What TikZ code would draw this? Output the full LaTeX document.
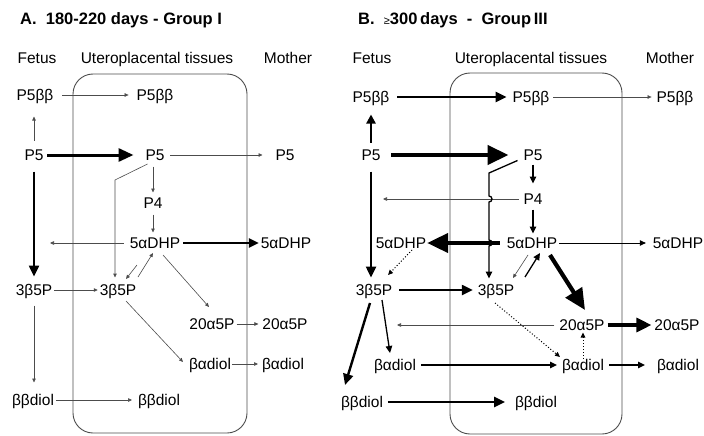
\documentclass[tikz,border=0pt]{standalone}
\usepackage{fontspec}
\setmainfont{Liberation Sans}
\usetikzlibrary{arrows.meta,calc}
\tikzset{
  lbl/.style={font=\fontsize{15.5}{18}\selectfont, inner sep=0pt, outer sep=0pt, text height=11pt, text depth=0pt},
  ttl/.style={font=\fontsize{16.5}{20}\selectfont\bfseries, anchor=west, inner sep=0pt},
  tissue/.style={draw=black!70, line width=0.9pt, rounded corners=20pt},
  weak/.style={draw=black!70, line width=0.6pt, -{Triangle[length=4pt,width=3.5pt]}},
  mid/.style={line width=1.3pt, -{Triangle[length=7pt,width=6.5pt]}},
  strong/.style={line width=2.4pt, -{Triangle[length=11pt,width=10pt]}},
  heavy/.style={line width=3.2pt, -{Triangle[length=15pt,width=14pt]}},
  huge/.style={line width=4.2pt, -{Triangle[length=21pt,width=19pt]}},
  dots/.style={dotted, line width=1pt, -{Triangle[length=5pt,width=4.5pt]}},
}
\begin{document}
\begin{tikzpicture}[x=1pt,y=-1pt]
\useasboundingbox (0,0) rectangle (704,436);
\node[ttl] (tA) at (20,20) {A.\ \ 180-220 days - Group I};
\node[lbl] (hFA) at (37,58) {Fetus};
\node[lbl] (hUA) at (157,58) {Uteroplacental tissues};
\node[lbl] (hMA) at (288,58) {Mother};
\draw[tissue] (73,74) rectangle (247,433);
\node[lbl] (aP5bbF) at (35,95) {P5ββ};
\node[lbl] (aP5bbU) at (155,95) {P5ββ};
\node[lbl] (aP5F) at (34,155) {P5};
\node[lbl] (aP5U) at (155,155) {P5};
\node[lbl] (aP5M) at (285,155) {P5};
\node[lbl] (aP4U) at (153,203) {P4};
\node[lbl] (aDHPU) at (155,243) {5αDHP};
\node[lbl] (aDHPM) at (286,243) {5αDHP};
\node[lbl] (a3bF) at (34,290) {3β5P};
\node[lbl] (a3bU) at (118,290) {3β5P};
\node[lbl] (a20U) at (212,324) {20α5P};
\node[lbl] (a20M) at (285,324) {20α5P};
\node[lbl] (aBaU) at (210,364) {βαdiol};
\node[lbl] (aBaM) at (283,364) {βαdiol};
\node[lbl] (aBbF) at (33,400) {ββdiol};
\node[lbl] (aBbU) at (159,400) {ββdiol};
\coordinate (aK) at (115,180);
\coordinate (aDHPout) at (50,243);
\draw[weak, shorten <=9pt, shorten >=8pt] (aP5bbF.east) -- (aP5bbU.west);
\draw[weak, shorten <=9pt, shorten >=16pt] (aP5F.north) -- (aP5F.north |- aP5bbF.south);
\draw[line width=3pt, -{Triangle[length=15pt,width=13pt]}, shorten <=4pt, shorten >=12pt] (aP5F.east) -- (aP5U.west);
\draw[weak, shorten <=6pt, shorten >=13pt] (aP5U.east) -- (aP5M.west);
\draw[weak, shorten <=6pt, shorten >=5pt] (aP4U |- aP5U.south) -- (aP4U.north);
\draw[weak] ($(aP5U.south west)+(2,3.5)$) -- (aK) -- (aK |- a3bU.north) [shorten >=7pt];
\draw[weak, shorten <=6pt, shorten >=5pt] (aP4U.south) -- (aP4U.south |- aDHPU.north);
\draw[weak, shorten <=6pt] (aDHPU.west) -- (aDHPout);
\draw[line width=2.2pt, -{Triangle[length=10pt,width=9pt]}, shorten <=3pt, shorten >=2pt] (aDHPU.east) -- (aDHPM.west);
\draw[strong, shorten <=11pt, shorten >=8pt] (aP5F.south) -- (aP5F.south |- a3bF.north);
\draw[weak] ($(aDHPU)+(-18,22)$) -- ($(a3bU)+(8,-11)$);
\draw[weak] ($(a3bU)+(20,-13)$) -- ($(aDHPU)+(-2,10)$);
\draw[weak] ($(aDHPU)+(8,12)$) -- ($(a20U)+(-3,-17)$);
\draw[weak, shorten <=2pt, shorten >=2pt] (a3bF.east) -- (a3bU.west);
\draw[weak] ($(a3bU)+(8,11)$) -- ($(aBaU)+(-27,-2)$);
\draw[weak, shorten <=2pt, shorten >=4pt] (a20U.east) -- (a20M.west);
\draw[weak, shorten <=1pt, shorten >=4pt] (aBaU.east) -- (aBaM.west);
\draw[weak, shorten <=10pt, shorten >=12pt] (a3bF.south) -- (a3bF.south |- aBbF.north);
\draw[weak, shorten <=2pt, shorten >=6pt] (aBbF.east) -- (aBbU.west);
\node[ttl] (tB) at (358,20) {B.\ \ {\mdseries\fontsize{11}{11}\selectfont ≥}300\,days \ - \ Group\,III};
\node[lbl] (hFB) at (372,58) {Fetus};
\node[lbl] (hUB) at (531,58) {Uteroplacental tissues};
\node[lbl] (hMB) at (670,58) {Mother};
\draw[tissue] (450,73) rectangle (622,434);
\node[lbl] (bP5bbF) at (371,97) {P5ββ};
\node[lbl] (bP5bbU) at (531,97) {P5ββ};
\node[lbl] (bP5bbM) at (675,97) {P5ββ};
\node[lbl] (bP5F) at (371,155) {P5};
\node[lbl] (bP5U) at (533,155) {P5};
\node[lbl] (bP4U) at (533,199) {P4};
\node[lbl] (bDHPF) at (401,243) {5αDHP};
\node[lbl] (bDHPU) at (532,243) {5αDHP};
\node[lbl] (bDHPM) at (678,243) {5αDHP};
\node[lbl] (b3bF) at (374,290) {3β5P};
\node[lbl] (b3bU) at (496,290) {3β5P};
\node[lbl] (b20U) at (582,325) {20α5P};
\node[lbl] (b20M) at (677,325) {20α5P};
\node[lbl] (bBaF) at (395,365) {βαdiol};
\node[lbl] (bBaU) at (583,365) {βαdiol};
\node[lbl] (bBaM) at (678,365) {βαdiol};
\node[lbl] (bBbF) at (362,402) {ββdiol};
\node[lbl] (bBbU) at (536,402) {ββdiol};
\coordinate (bK) at (489,173);
\coordinate (bP4out) at (383,199);
\coordinate (b20out) at (397,325);
\draw[strong, shorten <=8pt, shorten >=6pt] (bP5bbF.east) -- (bP5bbU.west);
\draw[weak, shorten <=4pt, shorten >=5pt] (bP5bbU.east) -- (bP5bbM.west);
\draw[strong, -{Triangle[length=9pt,width=9pt]}, shorten <=7pt, shorten >=12pt] (bP5F.north) -- (bP5F.north |- bP5bbF.south);
\draw[huge, shorten <=11pt, shorten >=15pt] (bP5F.east) -- (bP5U.west);
\draw[mid, shorten <=4pt, shorten >=10pt] (bP5U.south) -- (bP4U.north);
\draw[weak, shorten <=5pt] (bP4U.west) -- (bP4out);
\draw[mid, shorten <=5pt, shorten >=4pt] (bP4U.south) -- (bP4U.south |- bDHPU.north);
\draw[huge, shorten <=7pt, shorten >=1pt] (bDHPU.west) -- (bDHPF.east);
\draw[line width=0.9pt, -{Triangle[length=6pt,width=5.5pt]}, shorten <=2pt, shorten >=7pt] (bDHPU.east) -- (bDHPM.west);
\draw[dots] ($(bDHPF)+(11,7)$) -- ($(b3bF)+(14,-15)$);
\draw[strong, shorten <=11pt, shorten >=7pt] (bP5F.south) -- (bP5F.south |- b3bF.north);
\draw[mid] ($(bP5U.south west)+(-6,0)$) -- (bK) -- ($(bK |- bP4U)+(0,-3)$) arc[start angle=270, end angle=450, radius=3] -- ($(bK |- bDHPU)+(0,-3)$) arc[start angle=270, end angle=450, radius=3] -- (bK |- b3bU.north) [shorten >=6pt];
\draw[weak] ($(bDHPU)+(-4,12)$) -- ($(b3bU)+(17,-12)$);
\draw[mid] ($(b3bU)+(29,-13)$) -- ($(bDHPU)+(8,10)$);
\draw[huge] ($(bDHPU)+(18,12)$) -- ($(b20U)+(3,-15)$);
\draw[strong, shorten <=7pt, shorten >=5pt] (b3bF.east) -- (b3bU.west);
\draw[weak, shorten <=5pt] (b20U.west) -- (b20out);
\draw[heavy, shorten <=3pt, shorten >=3pt] (b20U.east) -- (b20M.west);
\draw[dots] ($(b3bU)+(-1,13)$) -- ($(bBaU)+(-23,-8)$);
\draw[dots, shorten <=1pt, shorten >=2pt] (bBaU.north) -- (bBaU.north |- b20U.south);
\draw[mid] ($(b3bF)+(8,10)$) -- ($(bBaF)+(-5,-12)$);
\draw[strong] ($(b3bF)+(-4,13)$) -- ($(bBbF)+(-17,-17)$);
\draw[mid, shorten <=5pt, shorten >=5pt] (bBaF.east) -- (bBaU.west);
\draw[mid, shorten <=5pt, shorten >=12pt] (bBaU.east) -- (bBaM.west);
\draw[strong, shorten <=5pt, shorten >=10pt] (bBbF.east) -- (bBbU.west);
\end{tikzpicture}
\end{document}
